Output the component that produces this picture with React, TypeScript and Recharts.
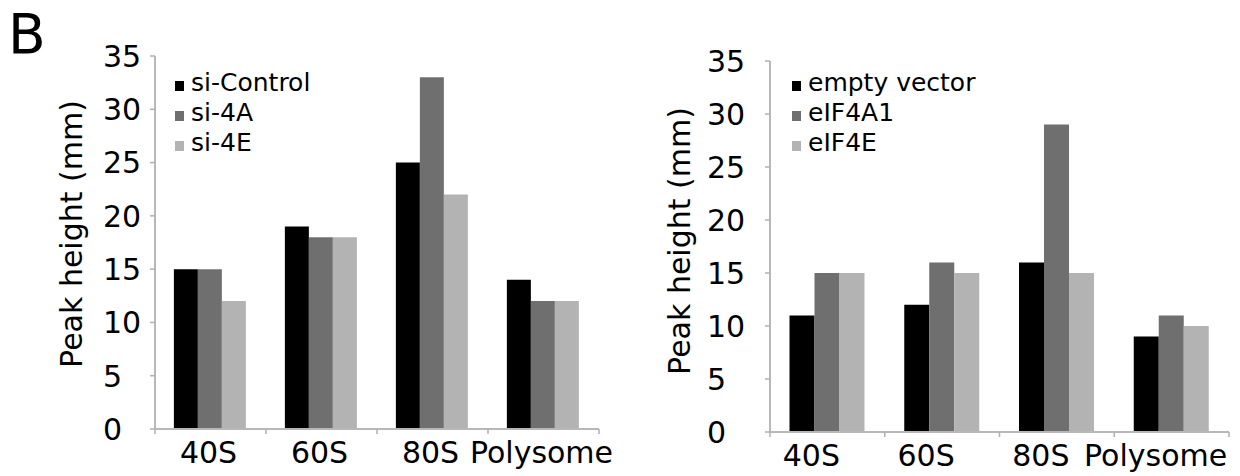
import React from "react";
import { BarChart, Bar, XAxis, YAxis, Legend } from "recharts";

const categories = ["40S", "60S", "80S", "Polysome"];
const siControl = [15, 19, 25, 14];
const si4A = [15, 18, 33, 12];
const si4E = [12, 18, 22, 12];
const emptyVector = [11, 12, 16, 9];
const eIF4A1 = [15, 16, 29, 11];
const eIF4E = [15, 15, 15, 10];
const yTicks = [0, 5, 10, 15, 20, 25, 30, 35];

const COLORS = ["#000000", "#6f6f6f", "#b3b3b3"];
const FONT = "'DejaVu Sans', Verdana, sans-serif";

const leftKeys = ["si-Control", "si-4A", "si-4E"];
const rightKeys = ["empty vector", "eIF4A1", "eIF4E"];

const leftData = categories.map((name, i) => ({
  name,
  "si-Control": siControl[i],
  "si-4A": si4A[i],
  "si-4E": si4E[i],
}));

const rightData = categories.map((name, i) => ({
  name,
  "empty vector": emptyVector[i],
  eIF4A1: eIF4A1[i],
  eIF4E: eIF4E[i],
}));

const XTick = ({ x, y, payload, index, dx, half }: any) => {
  const off = payload?.offset || half;
  return (
    <g>
      <line x1={x - off} x2={x - off} y1={y} y2={y + 5} stroke="#b0b0b0" strokeWidth={1.5} />
      {index === categories.length - 1 && (
        <line x1={x + off} x2={x + off} y1={y} y2={y + 5} stroke="#b0b0b0" strokeWidth={1.5} />
      )}
      <text x={x + dx} y={y + 34} textAnchor="middle" fontSize={30} fontFamily={FONT} fill="#000">
        {payload.value}
      </text>
    </g>
  );
};

const YTick = ({ x, y, payload, gap }: any) => (
  <g>
    <line x1={x - 5} x2={x} y1={y} y2={y} stroke="#b0b0b0" strokeWidth={1.5} />
    <text x={x - gap} y={y} dy="0.36em" textAnchor="start" fontSize={30} fontFamily={FONT} fill="#000">
      {payload.value}
    </text>
  </g>
);

// legend rows kept in series order
const LegendBox = ({ payload, order }: any) => {
  const items = [...(payload || [])].sort(
    (a: any, b: any) => order.indexOf(a.value) - order.indexOf(b.value)
  );
  return (
    <svg width={260} height={110} style={{ display: "block" }}>
      {items.map((p: any, i: number) => (
        <g key={p.value}>
          <rect x={0} y={21 + i * 30} width={9} height={10} fill={p.color} />
          <text x={16} y={31 + i * 30} fontSize={25} fontFamily={FONT} fill="#000">
            {p.value}
          </text>
        </g>
      ))}
    </svg>
  );
};

const yLabel = (cx: number, cy: number) => () => (
  <text
    x={cx}
    y={cy}
    transform={`rotate(-90 ${cx} ${cy})`}
    textAnchor="middle"
    dominantBaseline="central"
    fontSize={30}
    fontFamily={FONT}
    fill="#000"
  >
    Peak height (mm)
  </text>
);

function Panel({ data, keys, yWidth, margin, axisH, tickGap, labelPos, legendPos, dx, half }: any) {
  return (
    <BarChart
      width={620}
      height={476}
      data={data}
      margin={margin}
      barCategoryGap="17%"
      barGap={0}
    >
      <XAxis
        dataKey="name"
        height={axisH}
        axisLine={{ stroke: "#b8b8b8", strokeWidth: 2 }}
        tickLine={false}
        tickSize={0}
        tickMargin={0}
        interval={0}
        tick={<XTick dx={dx} half={half} />}
      />
      <XAxis
        xAxisId="top"
        dataKey="name"
        orientation="top"
        height={0}
        tick={false}
        tickLine={false}
        axisLine={{ stroke: "#6f6f6f", strokeWidth: 2 }}
      />
      <YAxis
        width={yWidth}
        domain={[0, 35]}
        ticks={yTicks}
        interval={0}
        axisLine={{ stroke: "#b8b8b8", strokeWidth: 2 }}
        tickLine={false}
        tickSize={0}
        tickMargin={0}
        tick={<YTick gap={tickGap} />}
        label={yLabel(labelPos[0], labelPos[1])}
      />
      <YAxis
        yAxisId="r"
        orientation="right"
        width={0}
        tick={false}
        tickLine={false}
        axisLine={{ stroke: "#777777", strokeWidth: 2 }}
      />
      <Legend
        layout="vertical"
        align="center"
        verticalAlign="middle"
        content={<LegendBox order={keys} />}
        wrapperStyle={{ left: legendPos[0], top: legendPos[1], width: "auto", height: "auto" }}
      />
      {keys.map((k: string, i: number) => (
        <Bar key={k} dataKey={k} fill={COLORS[i]} isAnimationActive={false} />
      ))}
    </BarChart>
  );
}

export default function App() {
  return (
    <div style={{ position: "absolute", left: 0, top: 0, width: 1240, height: 476, background: "#fff", fontFamily: FONT }}>
      <svg width={80} height={70} style={{ position: "absolute", left: 0, top: 0 }}>
        <text x={8} y={53} fontSize={55} fontFamily={FONT} fill="#000">
          B
        </text>
      </svg>
      <div style={{ position: "absolute", left: 0, top: 0 }}>
        <Panel
          data={leftData}
          keys={leftKeys}
          yWidth={155}
          margin={{ top: 56, right: 21, left: 0, bottom: 0 }}
          axisH={47}
          tickGap={52}
          labelPos={[71, 234]}
          legendPos={[175, 60]}
          dx={-2}
          half={55.5}
        />
      </div>
      <div style={{ position: "absolute", left: 620, top: 0 }}>
        <Panel
          data={rightData}
          keys={rightKeys}
          yWidth={150}
          margin={{ top: 61, right: 11, left: 0, bottom: 0 }}
          axisH={44}
          tickGap={63}
          labelPos={[59, 241]}
          legendPos={[172, 60]}
          dx={-16}
          half={57.4}
        />
      </div>
    </div>
  );
}
